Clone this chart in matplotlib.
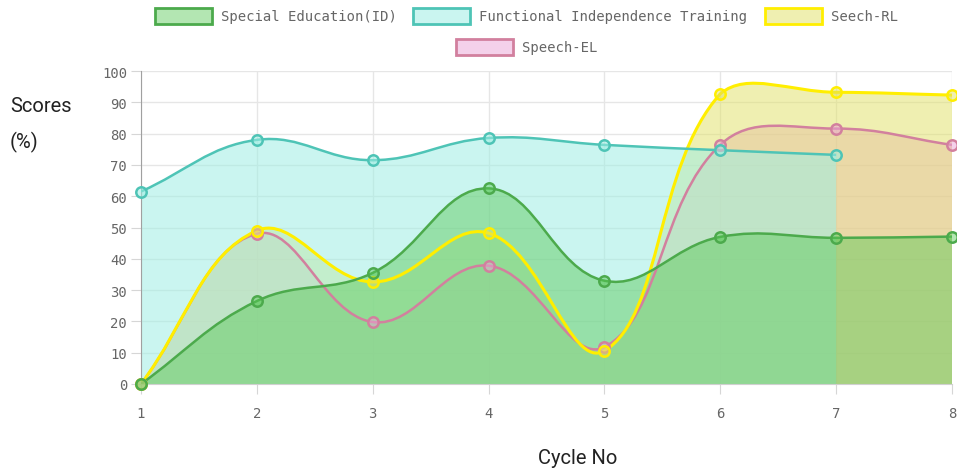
import numpy as np
import matplotlib.pyplot as plt
from matplotlib.path import Path
from matplotlib.patches import PathPatch, Rectangle

# data
cycles = [1, 2, 3, 4, 5, 6, 7, 8]
special_ed = [0, 26.5, 35.5, 62.5, 33, 47, 46.7, 47.1]
functional = [61.5, 78, 71.5, 78.6, 76.4, 74.7, 73.2]
speech_rl = [0, 49, 32.6, 48.2, 10.6, 92.7, 93.2, 92.3]
speech_el = [0, 48, 19.8, 37.8, 11.8, 76.4, 81.6, 76.4]

labels = ["Special Education(ID)", "Functional Independence Training", "Seech-RL", "Speech-EL"]
series = [special_ed, functional, speech_rl, speech_el]
line_cols = [(76/255, 170/255, 76/255), (78/255, 196/255, 182/255),
             (1.0, 238/255, 0.0), (210/255, 128/255, 158/255)]
fill_cols = [(87/255, 200/255, 84/255, 0.45), (159/255, 238/255, 228/255, 0.55),
             (225/255, 225/255, 101/255, 0.5), (235/255, 165/255, 215/255, 0.5)]
line_w = [1.8, 1.8, 2.2, 1.8]

fig = plt.figure(figsize=(9.57, 4.77), dpi=100)
ax = fig.add_axes([141/957, 1 - 385/477, 811/957, 313/477])
ax.set_xlim(1, 8)
ax.set_ylim(0, 100)


def bezier_path(xs, ys):
    # chart.js style spline (tension 0.4), worked out in pixel space
    pts = ax.transData.transform(np.column_stack([xs, ys]))
    bb = ax.bbox
    n = len(pts)
    cp_prev, cp_next = [], []
    for i in range(n):
        p = pts[max(i - 1, 0)]
        c = pts[i]
        q = pts[min(i + 1, n - 1)]
        d01 = np.hypot(*(c - p))
        d12 = np.hypot(*(q - c))
        tot = d01 + d12
        s01 = d01 / tot if tot else 0
        s12 = d12 / tot if tot else 0
        a = c - 0.4 * s01 * (q - p)
        b = c + 0.4 * s12 * (q - p)
        a = np.clip(a, [bb.x0, bb.y0], [bb.x1, bb.y1])
        b = np.clip(b, [bb.x0, bb.y0], [bb.x1, bb.y1])
        cp_prev.append(a)
        cp_next.append(b)
    verts = [pts[0]]
    codes = [Path.MOVETO]
    for i in range(n - 1):
        verts += [cp_next[i], cp_prev[i + 1], pts[i + 1]]
        codes += [Path.CURVE4] * 3
    inv = ax.transData.inverted()
    return inv.transform(np.array(verts)), codes


# chart.js draws the last dataset first
for k in [3, 2, 1, 0]:
    ys = series[k]
    xs = cycles[:len(ys)]
    verts, codes = bezier_path(xs, ys)
    fill_v = np.vstack([verts, [[xs[-1], 0], [xs[0], 0], [xs[0], ys[0]]]])
    fill_c = codes + [Path.LINETO, Path.LINETO, Path.CLOSEPOLY]
    ax.add_patch(PathPatch(Path(fill_v, fill_c), facecolor=fill_cols[k],
                           edgecolor="none", zorder=2))
    ax.add_patch(PathPatch(Path(verts, codes), facecolor="none",
                           edgecolor=line_cols[k], lw=line_w[k], zorder=3))
    ax.plot(xs, ys, "o", ms=7.5, mfc=fill_cols[k], mec=line_cols[k],
            mew=1.8, clip_on=False, zorder=4)

# grid and axes
ax.set_xticks(cycles)
ax.set_yticks(range(0, 101, 10))
ax.set_axisbelow(True)
ax.grid(True, color="#e6e6e6", lw=1)
for s in ["top", "right"]:
    ax.spines[s].set_visible(False)
ax.spines["left"].set_color("#a0a0a0")
ax.spines["bottom"].set_color("#d0d0d0")
ax.tick_params(axis="both", colors="#d6d6d6", labelcolor="#666666",
               length=7, labelsize=10)
ax.tick_params(axis="x", pad=9)
ax.tick_params(axis="y", pad=3)
for t in ax.get_xticklabels() + ax.get_yticklabels():
    t.set_family("DejaVu Sans Mono")

fig.text(10/957, 1 - 107/477, "Scores", family="Roboto",
         fontsize=14.5, va="center", ha="left", color="#222222")
fig.text(10/957, 1 - 142/477, "(%)", family="Roboto",
         fontsize=14.5, va="center", ha="left", color="#222222")
fig.text(578/957, 1 - 459/477, "Cycle No", family="Roboto",
         fontsize=14.5, va="center", ha="center", color="#222222")

# legend drawn by hand like chart.js
legend_items = [(155, 17, 0), (413, 17, 1), (765, 17, 2), (456, 48, 3)]
for bx, cy, k in legend_items:
    fig.patches.append(Rectangle((bx/957, 1 - (cy + 8)/477), 57/957, 16/477,
                                 transform=fig.transFigure, facecolor=fill_cols[k],
                                 edgecolor=line_cols[k], lw=2))
    fig.text((bx + 66)/957, 1 - cy/477, labels[k], family="DejaVu Sans Mono",
             fontsize=10, color="#666666", va="center", ha="left")

fig.savefig("out.png", dpi=100)
